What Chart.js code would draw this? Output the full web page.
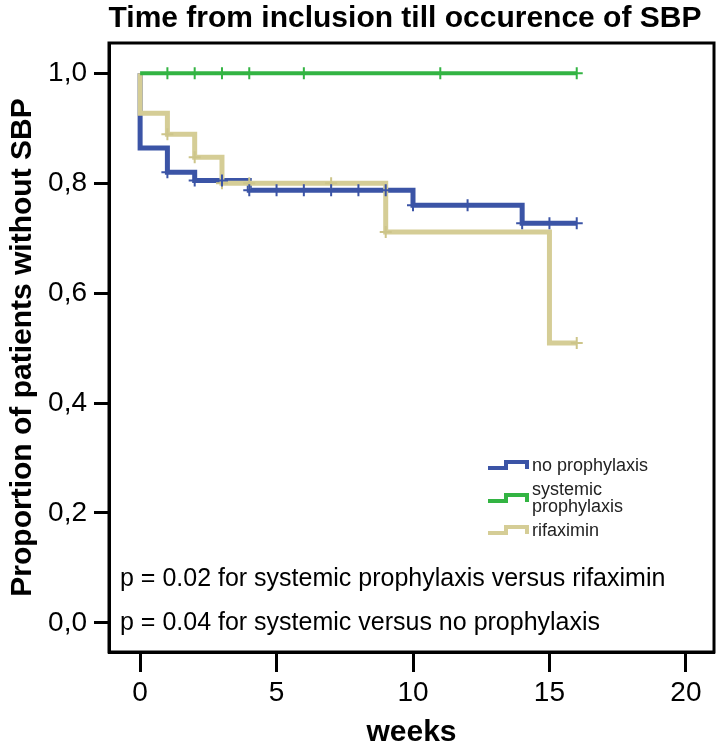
<!DOCTYPE html>
<html>
<head>
<meta charset="utf-8">
<script src="https://cdn.jsdelivr.net/npm/chart.js@4/dist/chart.umd.min.js"></script>
<style>
	html, body { margin: 0; padding: 0; background: #fff; }
	#wrap { width: 723px; height: 751px; }
</style>
</head>
<body>
<div id="wrap"><canvas id="chart"></canvas></div>
<script>
// Kaplan-Meier steps (weeks, proportion)
const noProphTimes = [0, 0, 1, 2, 4, 10, 14, 16];
const noProphSurv = [1, 0.864, 0.82, 0.805, 0.787, 0.76, 0.727, 0.727];
const noProphCensorTimes = [1, 2, 3, 4, 5, 6, 7, 8, 9, 10, 12, 14, 15, 16];
const noProphCensorSurv = [0.82, 0.805, 0.805, 0.787, 0.787, 0.787, 0.787, 0.787, 0.787, 0.76, 0.76, 0.727, 0.727, 0.727];

const systemicTimes = [0, 16];
const systemicSurv = [1, 1];
const systemicCensorTimes = [1, 2, 3, 4, 6, 11, 16];
const systemicCensorSurv = [1, 1, 1, 1, 1, 1, 1];

const rifaxTimes = [0, 0, 1, 2, 3, 9, 15, 16];
const rifaxSurv = [1, 0.927, 0.889, 0.847, 0.8, 0.711, 0.509, 0.509];
const rifaxCensorTimes = [1, 2, 3, 4, 7, 9, 16];
const rifaxCensorSurv = [0.889, 0.847, 0.8, 0.8, 0.8, 0.711, 0.509];

const xTicks = [0, 5, 10, 15, 20];
const yTicks = [0, 0.2, 0.4, 0.6, 0.8, 1.0];

const titleText = "Time from inclusion till occurence of SBP";
const groupNames = [["no prophylaxis"], ["systemic", "prophylaxis"], ["rifaximin"]];
const pTexts = [
	"p = 0.02 for systemic prophylaxis versus rifaximin",
	"p = 0.04 for systemic versus no prophylaxis"
];

const BLUE = "#3b54a6";
const GREEN = "#33b443";
const TAN = "#d5cd96";
const FONT = "'Liberation Sans', Arial, sans-serif";

Chart.defaults.font.family = FONT;
Chart.defaults.color = "#000";

function points(xs, ys) {
	return xs.map((x, i) => ({ x: x, y: ys[i] }));
}

function stepLine(label, xs, ys, color, width, order) {
	return {
		label, data: points(xs, ys), stepped: "before",
		borderColor: color, borderWidth: width, pointRadius: 0,
		fill: false, order
	};
}

function censor(label, xs, ys, color, order) {
	return {
		label, data: points(xs, ys), showLine: false,
		pointStyle: "cross", pointRadius: 6, pointBorderWidth: 2,
		pointBorderColor: color, pointBackgroundColor: color, order
	};
}

// title, frame, legend and p-values
const extras = {
	id: "extras",
	afterDraw(chart) {
		const ctx = chart.ctx;
		const a = chart.chartArea;
		ctx.save();
		ctx.strokeStyle = "#000";
		ctx.lineWidth = 3;
		ctx.strokeRect(a.left, a.top, a.right - a.left, a.bottom - a.top);

		ctx.fillStyle = "#000";
		ctx.textAlign = "center";
		ctx.textBaseline = "middle";
		ctx.font = "bold 30px " + FONT;
		ctx.fillText(titleText, 405, 19);

		// legend
		const colors = [BLUE, GREEN, TAN];
		const rows = [466, 499, 531];
		ctx.lineWidth = 4;
		ctx.font = "18px " + FONT;
		ctx.textAlign = "left";
		groupNames.forEach((lines, i) => {
			const cy = rows[i];
			ctx.strokeStyle = colors[i];
			ctx.beginPath();
			ctx.moveTo(488, cy + 2);
			ctx.lineTo(506, cy + 2);
			ctx.lineTo(506, cy - 4);
			ctx.lineTo(527, cy - 4);
			ctx.lineTo(527, cy + 3);
			ctx.stroke();
			ctx.fillStyle = "#222";
			const y0 = cy - (lines.length - 1) * 8.5;
			lines.forEach((t, j) => ctx.fillText(t, 532, y0 + j * 17));
		});

		ctx.font = "25px " + FONT;
		ctx.fillStyle = "#000";
		ctx.fillText(pTexts[0], 120, 579);
		ctx.fillText(pTexts[1], 120, 623);
		ctx.restore();
	}
};

const config = {
	type: "line",
	data: {
		datasets: [
			censor("no prophylaxis censored", noProphCensorTimes, noProphCensorSurv, BLUE, 0),
			censor("systemic censored", systemicCensorTimes, systemicCensorSurv, GREEN, 0),
			censor("rifaximin censored", rifaxCensorTimes, rifaxCensorSurv, "#cdc58a", 0),
			stepLine("systemic prophylaxis", systemicTimes, systemicSurv, GREEN, 4, 1),
			stepLine("rifaximin", rifaxTimes, rifaxSurv, TAN, 5, 2),
			stepLine("no prophylaxis", noProphTimes, noProphSurv, BLUE, 5, 3)
		]
	},
	options: {
		responsive: true,
		maintainAspectRatio: false,
		animation: false,
		layout: { padding: { left: 0, right: 9, top: 43, bottom: 0 } },
		scales: {
			x: {
				type: "linear",
				min: -1.14,
				max: 21.03,
				afterBuildTicks: scale => { scale.ticks = xTicks.map(v => ({ value: v })); },
				afterFit: scale => { scale.height = 99; },
				grid: { drawOnChartArea: false, drawTicks: true, tickLength: 20, tickWidth: 3, tickColor: "#000" },
				border: { display: true, color: "#000", width: 3 },
				ticks: { font: { size: 28 }, padding: 4, maxRotation: 0 },
				title: { display: true, text: "weeks", font: { size: 30, weight: "bold" }, padding: { top: 0, bottom: 0 } }
			},
			y: {
				min: -0.053,
				max: 1.055,
				afterBuildTicks: scale => { scale.ticks = yTicks.map(v => ({ value: v })); },
				afterFit: scale => { scale.width = 109; },
				grid: { drawOnChartArea: false, drawTicks: true, tickLength: 15, tickWidth: 3, tickColor: "#000" },
				border: { display: true, color: "#000", width: 3 },
				ticks: {
					font: { size: 28 }, padding: 7,
					callback: v => v.toFixed(1).replace(".", ",")
				},
				title: { display: true, text: "Proportion of patients without SBP", font: { size: 30, weight: "bold" }, padding: { top: 5, bottom: 0 } }
			}
		},
		plugins: {
			legend: { display: false },
			tooltip: { enabled: false },
			title: { display: false }
		}
	},
	plugins: [extras]
};

new Chart(document.getElementById("chart"), config);
</script>
</body>
</html>
